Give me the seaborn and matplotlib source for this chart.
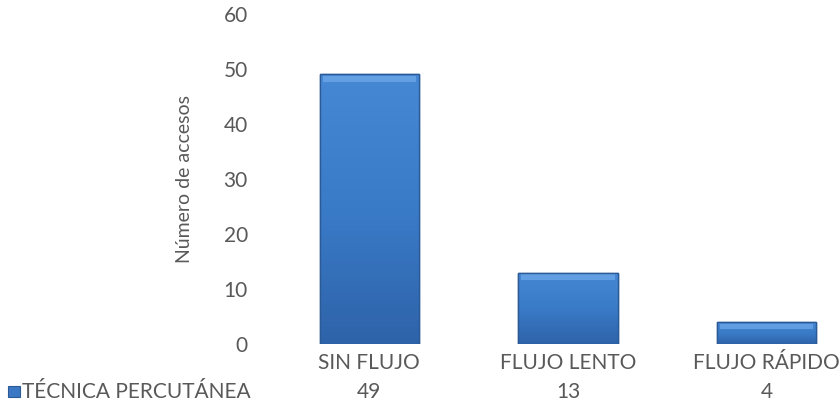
import numpy as np
import pandas as pd
import matplotlib
matplotlib.use("Agg")
import matplotlib.pyplot as plt
import seaborn as sns
from matplotlib.patches import Rectangle

categories = ["SIN FLUJO", "FLUJO LENTO", "FLUJO RÁPIDO"]
values = [49, 13, 4]
series_name = "TÉCNICA PERCUTÁNEA"
y_ticks = [0, 10, 20, 30, 40, 50, 60]
y_label = "Número de accesos"

sns.set_theme(style="white")
plt.rcParams["font.family"] = ["Lato", "DejaVu Sans"]
text_color = "#595959"
fs = 15

df = pd.DataFrame({"cat": categories, "val": values})

fig = plt.figure(figsize=(8.4, 4.15), dpi=100)
ax = fig.add_axes([270 / 840, 71 / 415, 596 / 840, 330 / 415])

sns.barplot(data=df, x="cat", y="val", color="#3b78c4", width=0.5,
            edgecolor="#2b5a96", linewidth=1.0, ax=ax, saturation=1)

ax.set_xlim(-0.5, 2.5)
ax.set_ylim(0, 60)
ax.set_yticks(y_ticks)
ax.set_yticklabels([str(t) for t in y_ticks], fontsize=fs, color=text_color)
ax.set_xticks(range(len(categories)))
ax.set_xticklabels(categories, fontsize=fs, color=text_color)
for lbl in ax.get_xticklabels():
    lbl.set_verticalalignment("baseline")
ax.tick_params(axis="x", length=0, pad=18)
ax.tick_params(axis="y", length=0, pad=16)
ax.set_xlabel("")
ax.set_ylabel(y_label, fontsize=14, color=text_color, labelpad=22)
for s in ax.spines.values():
    s.set_visible(False)

# gradient fill on bars
grad = np.linspace(0, 1, 256).reshape(-1, 1)
cmap = matplotlib.colors.LinearSegmentedColormap.from_list(
    "b", ["#2e63a9", "#3a7bc8", "#4788d4"])
for p in ax.patches:
    x0, y0 = p.get_x(), p.get_y()
    w, h = p.get_width(), p.get_height()
    im = ax.imshow(grad, extent=[x0, x0 + w, y0, y0 + h], origin="lower",
                   cmap=cmap, aspect="auto", zorder=p.get_zorder() + 0.1)
    im.set_clip_path(p)
    bev = min(h * 0.3, 1.4)
    ax.add_patch(Rectangle((x0 + 0.015, y0 + h - bev), w - 0.03, bev * 0.75,
                           facecolor="#72acec", edgecolor="none", alpha=0.65,
                           zorder=p.get_zorder() + 0.2))
    ax.add_patch(Rectangle((x0, y0), w, h, facecolor="none",
                           edgecolor="#2b5a96", linewidth=1.0,
                           zorder=p.get_zorder() + 0.3))

# data table row
row_base = 1 - 398 / 415
fig.add_artist(Rectangle((8 / 840, row_base + 1 / 415), 12 / 840, 11 / 415,
                         transform=fig.transFigure, facecolor="#3b78c4",
                         edgecolor="#2b5a96", linewidth=0.8))
fig.text(22 / 840, row_base, series_name, fontsize=fs, color=text_color,
         va="baseline", ha="left")
for i, v in enumerate(values):
    xd = ax.transData.transform((i, 0))[0]
    xf = fig.transFigure.inverted().transform((xd, 0))[0]
    fig.text(xf, row_base, str(v), fontsize=fs, color=text_color,
             va="baseline", ha="center")

fig.savefig("out.png", dpi=100)
